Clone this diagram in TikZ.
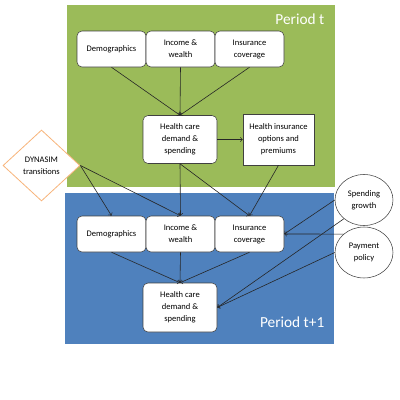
\documentclass[tikz,border=0pt]{standalone}
\usepackage{fontspec}
\setmainfont{Carlito}
\usetikzlibrary{arrows,shapes.geometric}
\definecolor{period_green}{RGB}{155,187,89}
\definecolor{period_blue}{RGB}{79,129,189}
\definecolor{dyn_orange}{RGB}{248,180,122}

\begin{document}
\begin{tikzpicture}[x=0.75pt,y=-0.75pt,
		box_node/.style={rectangle,rounded corners=3.75pt,draw=black!75,fill=white,align=center,font=\fontsize{6.4}{9}\selectfont,inner sep=1pt,minimum width=51.75pt,minimum height=27pt},
		big_node/.style={box_node,minimum width=55.5pt,minimum height=36pt},
		round_node/.style={ellipse,draw=black!75,fill=white,align=center,font=\fontsize{6.4}{9}\selectfont,inner sep=0pt,minimum width=43.5pt,minimum height=38.25pt},
		period_label/.style={anchor=east,text=white,font=\fontsize{11.5}{13}\selectfont},
		link/.style={->,>=to,draw=black!85,line width=0.45pt}]
		
		\useasboundingbox (0,0) rectangle (400,400);
		\fill[white] (0,0) rectangle (400,400);
		\fill[period_green] (67,5) rectangle (335,187);
		\fill[period_blue] (65,193) rectangle (334,344);
		\node[period_label] (pt) at (329,19) {Period t};
		\node[period_label] (pt1) at (329,322) {Period t+1};
		
		% period t
		\node[box_node] (demo1) at (111.5,49) {Demographics};
		\node[box_node] (inc1) at (180.5,49) {Income \&\\wealth};
		\node[box_node] (ins1) at (249.5,49) {Insurance\\coverage};
		\node[big_node] (hc1) at (180,139.5) {Health care\\demand \&\\spending};
		\node[box_node,rounded corners=0pt,minimum width=53.25pt,minimum height=38.25pt] (hio) at (278.5,139.5) {Health insurance\\options and\\premiums};
		
		% period t+1
		\node[box_node] (demo2) at (111.5,234) {Demographics};
		\node[box_node] (inc2) at (180.5,234) {Income \&\\wealth};
		\node[box_node] (ins2) at (249.5,234) {Insurance\\coverage};
		\node[big_node,minimum height=36.75pt] (hc2) at (180,307.5) {Health care\\demand \&\\spending};
		
		% outside
		\node[diamond,draw=dyn_orange,line width=0.6pt,fill=white,align=center,font=\fontsize{6.4}{9}\selectfont,inner sep=0pt,minimum width=57.75pt,minimum height=53.25pt] (dyn) at (41.5,165.5) {DYNASIM\\transitions};
		\node[round_node] (sg) at (364,200) {Spending\\growth};
		\node[round_node] (pp) at (364,252.5) {Payment\\policy};
		
		\draw[link] (demo1.south) -- (hc1.north);
		\draw[link] (inc1.south) -- (hc1.north);
		\draw[link] (ins1.south) -- (hc1.north);
		\draw[link] (hc1.east) -- (hio.west);
		\draw[link] (dyn.east) -- (demo2.north);
		\draw[link] (dyn.east) -- (inc2.north);
		\draw[link] (hc1.south) -- (inc2.north);
		\draw[link] (hc1.south) -- (ins2.north);
		\draw[link] (hio.south) -- (ins2.north);
		\draw[link] (sg.west) -- (ins2.east);
		\draw[link] (pp.138) -- (ins2.east);
		\draw[link] (sg.223) -- (hc2.east);
		\draw[link] (pp.west) -- (hc2.east);
		\draw[link] (demo2.south) -- (hc2.north);
		\draw[link] (inc2.south) -- (hc2.north);
		\draw[link] (ins2.south) -- (hc2.north);
		
		\end{tikzpicture}
\end{document}
